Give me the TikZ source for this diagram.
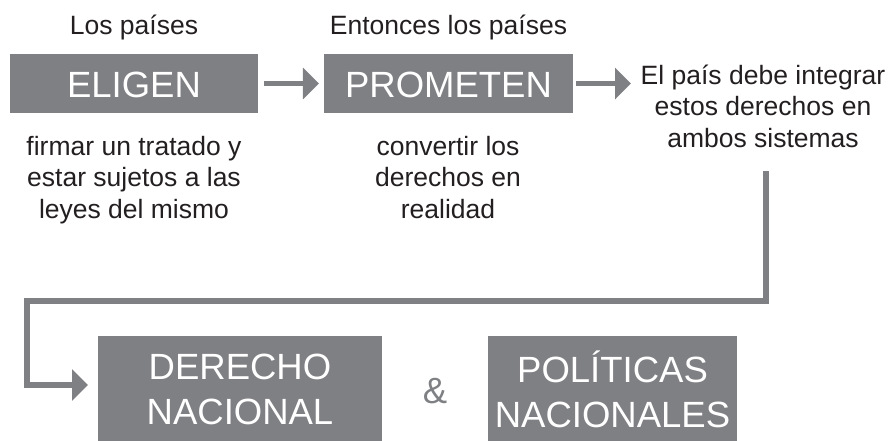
\documentclass[tikz,border=0pt]{standalone}
\usepackage{fontspec}
\setmainfont{Liberation Sans}
\usetikzlibrary{arrows.meta}
\definecolor{boxgray}{RGB}{127,128,132}
\definecolor{txt}{RGB}{35,31,32}
\tikzset{
  x=1pt, y=-1pt,
  smalltext/.style={font=\fontsize{26.5}{31.5}\selectfont, text=txt, inner sep=0pt, anchor=base},
  graybox/.style={fill=boxgray, draw=none, text=white, inner sep=0pt, align=center,
    font=\fontsize{36.5}{45}\selectfont},
  arr/.style={draw=boxgray, line width=5.5pt, line join=miter,
    -{Triangle[length=16pt,width=31pt]}},
}
\begin{document}
\begin{tikzpicture}
\useasboundingbox (0,0) rectangle (891,440);
% top boxes
\node[graybox, minimum width=248pt, minimum height=59pt, text height=28pt, text depth=0pt] (eligen) at (134,83.5) {ELIGEN};
\node[graybox, minimum width=249pt, minimum height=59pt, text height=28pt, text depth=0pt] (prometen) at (448.5,83.5) {PROMETEN};
% headings
\node[smalltext] (h1) at (134,34) {Los países};
\node[smalltext] (h2) at (448.5,34) {Entonces los países};
% sub texts
\node[smalltext] (s1a) at (134,155) {firmar un tratado y};
\node[smalltext] (s1b) at (134,186.5) {estar sujetos a las};
\node[smalltext] (s1c) at (134,218) {leyes del mismo};
\node[smalltext] (s2a) at (448,155) {convertir los};
\node[smalltext] (s2b) at (448,186.5) {derechos en};
\node[smalltext] (s2c) at (448,218) {realidad};
\node[smalltext] (r1a) at (763,84) {El país debe integrar};
\node[smalltext] (r1b) at (763,115.5) {estos derechos en};
\node[smalltext] (r1c) at (763,147) {ambos sistemas};
% bottom boxes
\node[graybox, minimum width=284pt, minimum height=107pt] (derecho) at (240,389.5) {DERECHO\\NACIONAL};
\node[graybox, minimum width=249pt, minimum height=107pt] (politicas) at (612.5,389.5) {POLÍTICAS\\NACIONALES};
\node[font=\fontsize{36.5}{45}\selectfont, text=boxgray, inner sep=0pt, anchor=base] (amp) at (435,403) {\&};
% connectors
\coordinate (a2end) at (631,83.5);
\coordinate (c0) at (766,171);
\coordinate (c1) at (88,385);
\draw[arr] ([xshift=6pt]eligen.east) -- ([xshift=-5pt]prometen.west);
\draw[arr] ([xshift=3pt]prometen.east) -- (a2end);
\draw[arr] (c0) |- (27,301) |- (c1);
\end{tikzpicture}
\end{document}
